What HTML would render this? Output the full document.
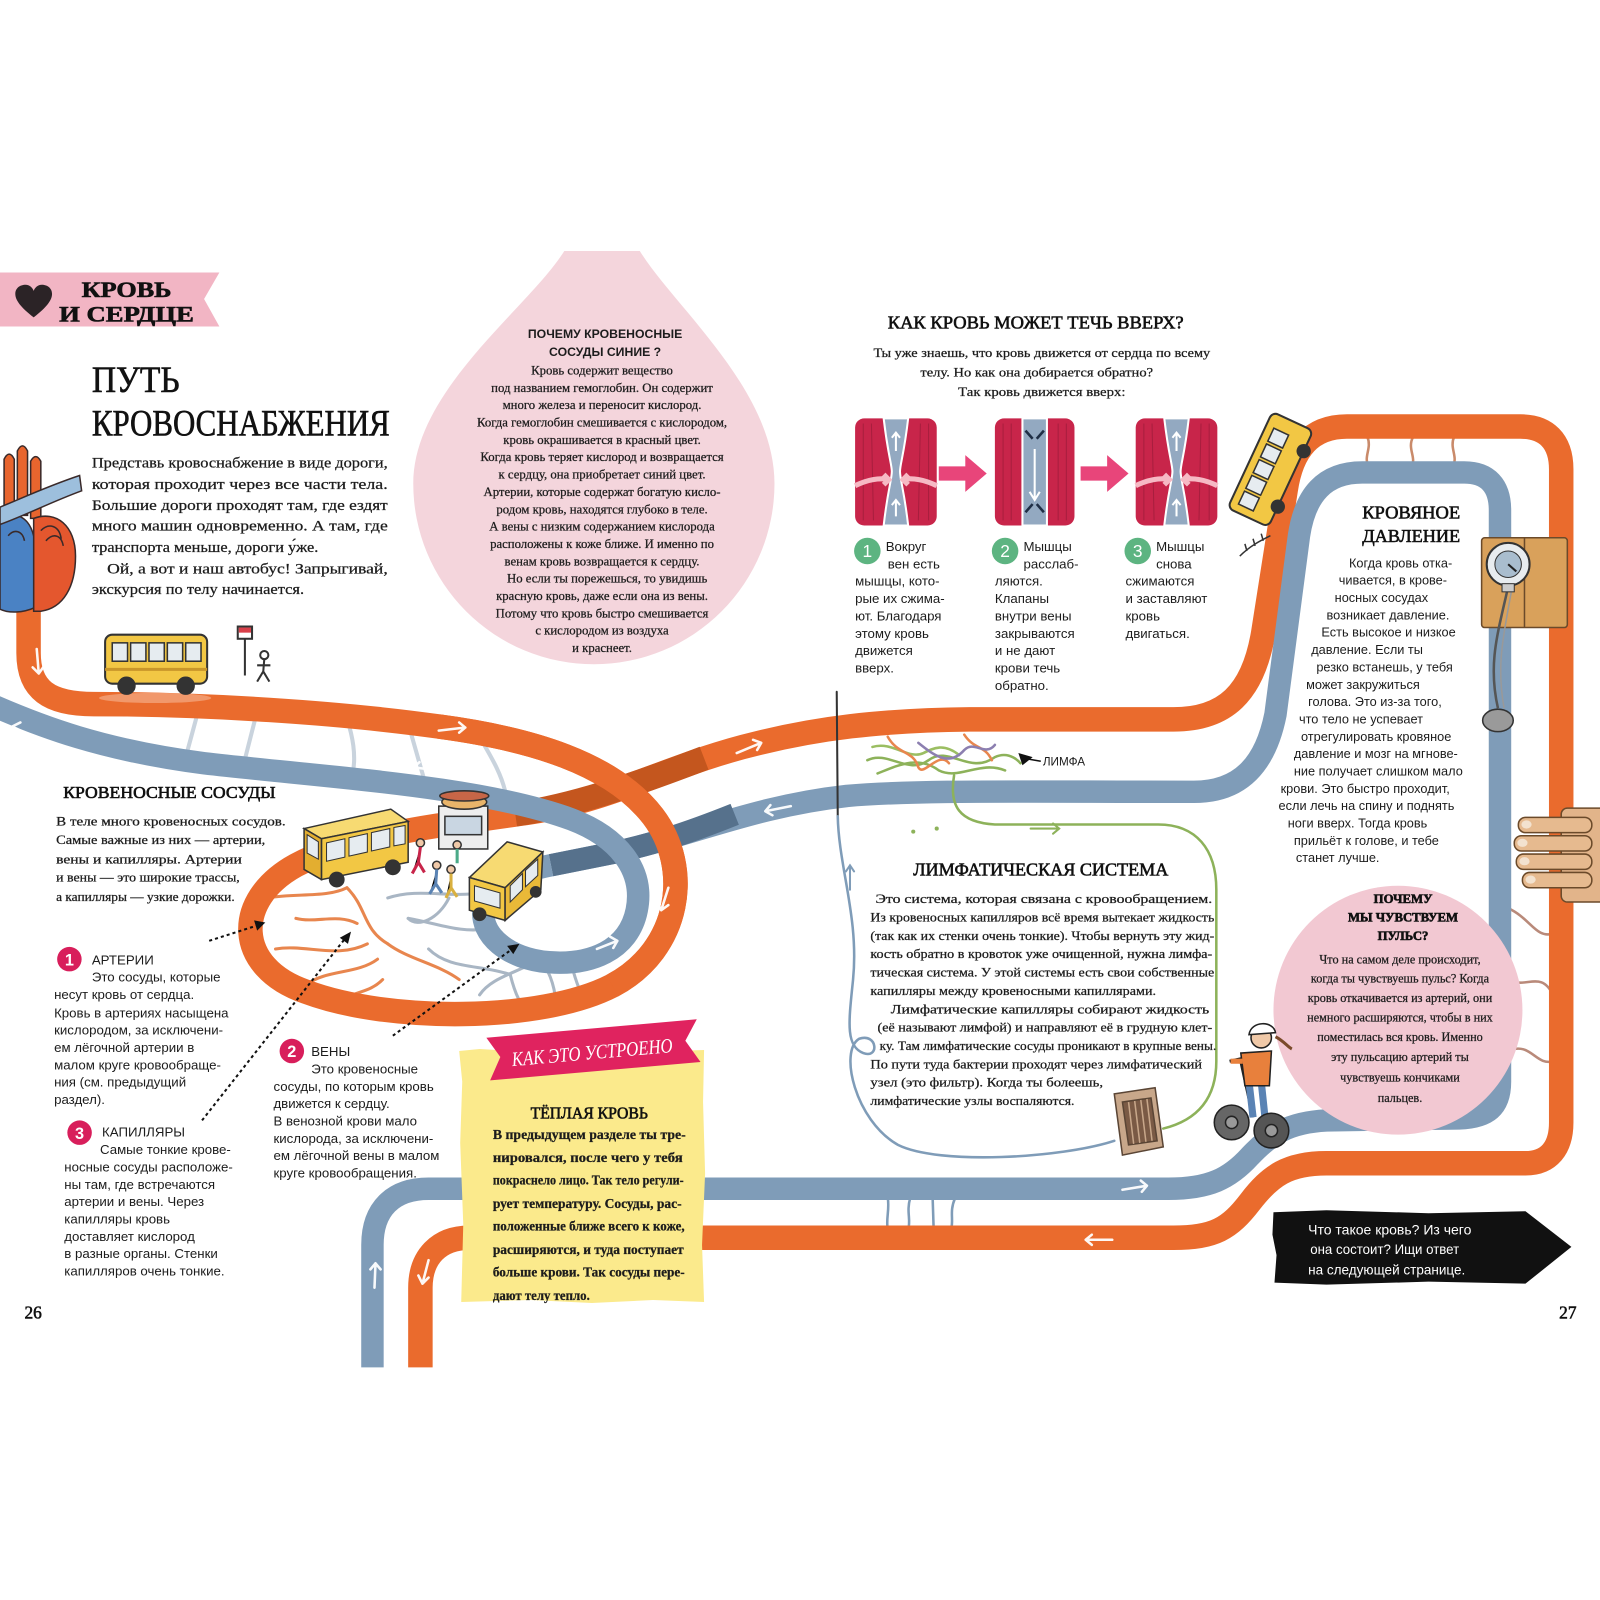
<!DOCTYPE html>
<html>
<head>
<meta charset="utf-8">
<style>
html,body{margin:0;padding:0;background:#fff;}
svg{display:block;}
.sr{font-family:"Liberation Serif","DejaVu Serif",serif;fill:#1c1c1c;stroke:#1c1c1c;stroke-width:0.25;}
.ss{font-family:"Liberation Sans","DejaVu Sans",sans-serif;fill:#1c1c1c;}
.tt{font-family:"Liberation Serif","DejaVu Serif",serif;fill:#111;stroke:#111;stroke-width:0.6;}
</style>
</head>
<body>
<svg width="1600" height="1600" viewBox="0 0 1600 1600" xmlns="http://www.w3.org/2000/svg">
<rect width="1600" height="1600" fill="#fff"/>
<g transform="scale(1.0204)">

<!-- ============ PINK DROP ============ -->
<path d="M553,246 L627,246 C662,302 759,382 759,474 A177,177 0 0 1 405,474 C405,382 518,302 553,246 Z" fill="#F4D5DC"/>

<!-- ============ CAPILLARIES (under roads) ============ -->
<g fill="none" stroke-linecap="round">
  <g stroke="#C9D3DD" stroke-width="4">
    <path d="M195,694 L182,742"/><path d="M252,697 L238,752"/>
    <path d="M340,704 C345,720 350,740 345,762"/><path d="M400,709 L418,772"/>
    <path d="M470,722 C480,740 490,755 495,775"/>
  </g>
  <g stroke="#E8864E" stroke-width="3">
    <path d="M262,880 C290,875 320,880 340,870"/>
    <path d="M270,930 C300,925 330,940 360,925"/>
    <path d="M300,965 C320,950 350,955 370,940"/>
    <path d="M340,870 C360,890 355,910 380,925"/>
    <path d="M380,925 C400,940 430,945 450,960"/>
    <path d="M330,985 C345,970 360,975 375,960"/>
    <path d="M290,900 C310,905 330,895 350,905"/>
  </g>
  <g stroke="#A9B6C4" stroke-width="3">
    <path d="M380,880 C410,870 440,880 470,875"/>
    <path d="M400,900 C430,905 450,915 480,910"/>
    <path d="M420,930 C440,950 470,945 500,955"/>
    <path d="M470,975 C480,960 500,955 520,945"/>
    <path d="M440,880 C430,900 410,910 400,900"/>
    <path d="M560,945 C565,965 570,975 575,985"/>
    <path d="M500,955 C505,975 510,985 520,995"/>
    <path d="M530,940 C540,955 545,970 545,990"/>
  </g>
  <g stroke="#C98A6A" stroke-width="2.5">
    <path d="M1385,428 C1378,440 1390,450 1382,458"/>
    <path d="M1425,428 C1420,440 1430,448 1423,458"/>
    <path d="M1340,428 C1345,440 1335,448 1342,458"/>
  </g>
  <g stroke="#B98A7A" stroke-width="2.5">
    <path d="M1478,890 C1500,900 1505,920 1522,915"/>
    <path d="M1478,960 C1495,970 1510,950 1522,975"/>
    <path d="M1478,1030 C1500,1020 1505,1045 1522,1040"/>
  </g>
  <g stroke="#7F9CB8" stroke-width="2.5">
    <path d="M870,1174 C872,1185 868,1195 870,1205"/>
    <path d="M892,1174 C888,1188 893,1195 890,1205"/>
    <path d="M914,1174 L915,1205"/>
    <path d="M936,1174 C930,1188 935,1195 932,1205"/>
  </g>
</g>

<!-- ============ ROADS ============ -->
<g fill="none" stroke-linecap="butt" stroke-linejoin="round">
  <path d="M28,585 L28,640 C28,676 48,690 92,690 C200,690 330,698 430,712 C520,724 600,748 640,800 C678,850 668,930 600,966 C530,1002 380,1002 300,972 C230,948 228,882 290,848 C350,816 440,808 520,796 C600,784 660,748 740,729 C800,714 860,706 950,705 L1150,705 C1200,705 1228,680 1238,620 L1260,480 C1266,440 1285,418 1320,418 L1490,418 C1515,418 1530,432 1530,460 L1530,1100 C1530,1125 1518,1140 1495,1140 L1300,1140 C1262,1140 1245,1152 1225,1178 C1205,1204 1190,1213 1150,1213 L460,1213 C430,1213 412,1232 412,1262 L412,1340" stroke="#EA6B2D" stroke-width="24"/>
  <path d="M505,798 C560,790 620,770 690,743" stroke="#C4561E" stroke-width="24"/>
  <path d="M540,848 C560,844 580,840 600,836 C680,818 740,790 830,780 C900,774 1000,776 1170,776 C1215,776 1240,750 1250,700 L1273,525 C1279,485 1298,463 1335,463 L1435,463 C1458,463 1470,476 1470,500 L1470,1060 C1470,1085 1458,1095 1430,1096 L1300,1098 C1262,1100 1245,1112 1225,1133 C1205,1155 1185,1165 1145,1165 L420,1165 C385,1165 365,1185 365,1220 L365,1340" stroke="#7F9CB8" stroke-width="22"/>
  <path d="M540,848 C560,844 580,840 600,836 C640,827 670,818 720,798" stroke="#56718C" stroke-width="22"/>
  <path d="M-10,690 C40,712 100,735 200,748 C320,762 470,770 560,803 C605,820 632,852 624,892 C616,932 578,946 538,943 C498,940 470,916 474,890 C478,866 505,855 540,848" stroke="#7F9CB8" stroke-width="22"/>
  <path d="M430,712 C520,724 600,748 640,800 C678,850 668,930 600,966" stroke="#EA6B2D" stroke-width="24"/>
</g>

<!-- road arrows -->
<g fill="none" stroke="#fff" stroke-width="2.5" stroke-linecap="round" stroke-linejoin="round" opacity="0.95">
  <path d="M36,636 L38,660 M32,654 L38,660 L43,653"/>
  <path d="M430,716 L456,713 M450,708 L456,713 L450,718"/>
  <path d="M722,738 L746,728 M738,725 L746,728 L742,735"/>
  <path d="M655,870 L648,892 M644,884 L648,892 L655,887"/>
  <path d="M1512,1094 L1500,1114 M1499,1105 L1500,1114 L1508,1112"/>
  <path d="M1090,1215 L1064,1215 M1070,1210 L1064,1215 L1070,1220"/>
  <path d="M420,1235 L414,1258 M410,1250 L414,1258 L420,1252"/>
  <path d="M32,722 L12,712 M14,720 L12,712 L20,708"/>
  <path d="M430,755 L405,752 M411,747 L405,752 L410,757"/>
  <path d="M585,930 L605,922 M598,918 L605,922 L601,929"/>
  <path d="M775,790 L750,795 M755,789 L750,795 L757,799"/>
  <path d="M1100,1166 L1124,1162 M1118,1157 L1124,1162 L1119,1168"/>
  <path d="M367,1262 L368,1238 M363,1244 L368,1238 L373,1244"/>
</g>

<!-- ============ LYMPH LINES ============ -->
<g fill="none" stroke-linecap="round">
  <path d="M820,678 L821,800" stroke="#333" stroke-width="2"/>
  <path d="M821,800 C822,850 842,900 836,960 C832,1000 828,1025 846,1032 C862,1038 860,1012 842,1018 C822,1030 838,1098 880,1122 C920,1142 1040,1135 1092,1118" stroke="#7F9CB8" stroke-width="2.5"/>
  <path d="M935,760 C930,790 940,806 975,808 L1135,808 C1172,808 1192,832 1192,872 L1192,1040 C1192,1078 1172,1098 1140,1106" stroke="#8DB25A" stroke-width="2.5"/>
  <path d="M1010,812 L1038,812 M1032,807 L1038,812 L1032,817" stroke="#8DB25A" stroke-width="2"/>
  <path d="M833,872 L833,848 M829,854 L833,848 L837,854" stroke="#7F9CB8" stroke-width="2"/>
  <path d="M850,745 C870,735 890,760 910,745 C930,730 950,760 975,742 C990,735 1000,748 1000,748" stroke="#8DB25A" stroke-width="2.5"/>
  <path d="M860,758 C880,750 900,740 920,755 C940,765 960,745 985,755" stroke="#8DB25A" stroke-width="2.5"/>
  <path d="M855,732 C875,726 890,745 905,738 C915,733 925,728 940,740" stroke="#9BBE62" stroke-width="2.5"/>
  <path d="M870,722 C880,740 895,735 900,752 C905,762 920,735 930,748" stroke="#E8864E" stroke-width="2.5"/>
  <path d="M945,720 C955,735 965,730 972,745" stroke="#E8864E" stroke-width="2.5"/>
  <path d="M900,728 C915,740 930,752 945,735 C955,725 965,742 975,730" stroke="#8C7FB0" stroke-width="2.5"/>
</g>
<polygon points="998,738 1012,742 1002,750" fill="#111"/>
<path d="M1008,744 L1020,746" stroke="#111" stroke-width="1.5"/>
<text x="1022" y="750" class="ss" font-size="11.5">ЛИМФА</text>
<g fill="#8DB25A"><circle cx="895" cy="815" r="2"/><circle cx="918" cy="812" r="2"/></g>

<!-- ============ BANNER ============ -->
<polygon points="0,267 215,267 200,293 215,320 0,320" fill="#F2B5C4"/>
<path d="M33,311 C20,301 15,294 15,288 C15,282 20,279 25,279 C29,279 32,282 33,285 C34,282 37,279 41,279 C46,279 51,282 51,288 C51,294 46,301 33,311 Z" fill="#2b2326"/>
<text x="80" y="291" class="tt" font-size="22" font-weight="bold" textLength="88" lengthAdjust="spacingAndGlyphs">КРОВЬ</text>
<text x="58" y="315" class="tt" font-size="22" font-weight="bold" textLength="132" lengthAdjust="spacingAndGlyphs">И СЕРДЦЕ</text>

<!-- ============ TITLE + INTRO ============ -->
<text x="90" y="384" class="tt" font-size="36" textLength="86" lengthAdjust="spacingAndGlyphs">ПУТЬ</text>
<text x="90" y="427" class="tt" font-size="36" textLength="292" lengthAdjust="spacingAndGlyphs">КРОВОСНАБЖЕНИЯ</text>
<g class="sr" font-size="14.5">
<text x="90" y="458" textLength="290" lengthAdjust="spacingAndGlyphs">Представь кровоснабжение в виде дороги,</text>
<text x="90" y="479" textLength="290" lengthAdjust="spacingAndGlyphs">которая проходит через все части тела.</text>
<text x="90" y="500" textLength="290" lengthAdjust="spacingAndGlyphs">Большие дороги проходят там, где ездят</text>
<text x="90" y="520" textLength="290" lengthAdjust="spacingAndGlyphs">много машин одновременно. А там, где</text>
<text x="90" y="541" textLength="222" lengthAdjust="spacingAndGlyphs">транспорта меньше, дороги у́же.</text>
<text x="105" y="562" textLength="275" lengthAdjust="spacingAndGlyphs">Ой, а вот и наш автобус! Запрыгивай,</text>
<text x="90" y="582" textLength="208" lengthAdjust="spacingAndGlyphs">экскурсия по телу начинается.</text>
</g>

<!-- ============ HEART ============ -->
<g stroke="#3a2a2a" stroke-width="1.5">
  <path d="M4,505 L4,450 Q9,440 14,450 L14,505 Z" fill="#E8652E"/>
  <path d="M17,505 L17,442 Q22,432 27,442 L27,505 Z" fill="#E8652E"/>
  <path d="M30,508 L30,452 Q35,443 40,452 L40,508 Z" fill="#E8652E"/>
  <path d="M0,505 C25,500 35,515 35,545 L35,595 C22,601 8,601 0,597 Z" fill="#4A82C4"/>
  <path d="M33,508 C55,500 74,515 74,545 C74,575 62,596 40,599 L33,599 Z" fill="#E4572E"/>
  <path d="M0,497 C20,489 45,477 78,466 L80,481 C50,492 25,505 0,514 Z" fill="#9DBFDD"/>
  <path d="M40,520 C48,512 58,515 60,528 M45,530 C52,522 60,524 62,535" fill="none"/>
  <path d="M8,525 C14,518 22,520 24,530" fill="none"/>
</g>

<!-- ============ BUS 1 + STOP ============ -->
<ellipse cx="152" cy="684" rx="55" ry="5" fill="#F3A47A" opacity="0.8"/>
<g stroke="#333" stroke-width="2">
  <rect x="103" y="622" width="100" height="48" rx="7" fill="#F2C744"/>
  <g fill="#E6ECF0" stroke-width="1.5">
    <rect x="110" y="630" width="15" height="18"/><rect x="128" y="630" width="15" height="18"/>
    <rect x="146" y="630" width="15" height="18"/><rect x="164" y="630" width="15" height="18"/>
    <rect x="182" y="630" width="15" height="18"/>
  </g>
  <line x1="103" y1="656" x2="203" y2="656" stroke="#C9962A" stroke-width="3"/>
  <circle cx="124" cy="672" r="8" fill="#333"/><circle cx="182" cy="672" r="8" fill="#333"/>
  <line x1="240" y1="620" x2="240" y2="662"/>
  <rect x="233" y="614" width="14" height="12" fill="#fff"/>
</g>
<rect x="234" y="615" width="12" height="5" fill="#D9404A"/>
<g stroke="#333" stroke-width="2" fill="none">
  <circle cx="259" cy="642" r="4" fill="#fff"/>
  <path d="M259,646 L258,658 L252,668 M258,658 L264,668 M252,652 L265,652"/>
</g>

<!-- ============ DROP TEXT ============ -->
<g class="ss" font-size="12" font-weight="bold" text-anchor="middle" fill="#1a1a1a">
<text x="593" y="331">ПОЧЕМУ КРОВЕНОСНЫЕ</text>
<text x="593" y="349">СОСУДЫ СИНИЕ ?</text>
</g>
<g class="sr" font-size="12.5" text-anchor="middle">
<text x="590" y="367">Кровь содержит вещество</text>
<text x="590" y="384">под названием гемоглобин. Он содержит</text>
<text x="590" y="401">много железа и переносит кислород.</text>
<text x="590" y="418">Когда гемоглобин смешивается с кислородом,</text>
<text x="590" y="435">кровь окрашивается в красный цвет.</text>
<text x="590" y="452">Когда кровь теряет кислород и возвращается</text>
<text x="590" y="469">к сердцу, она приобретает синий цвет.</text>
<text x="590" y="486">Артерии, которые содержат богатую кисло-</text>
<text x="590" y="503">родом кровь, находятся глубоко в теле.</text>
<text x="590" y="520">А вены с низким содержанием кислорода</text>
<text x="590" y="537">расположены к коже ближе. И именно по</text>
<text x="590" y="554">венам кровь возвращается к сердцу.</text>
<text x="595" y="571">Но если ты порежешься, то увидишь</text>
<text x="590" y="588">красную кровь, даже если она из вены.</text>
<text x="590" y="605">Потому что кровь быстро смешивается</text>
<text x="590" y="622">с кислородом из воздуха</text>
<text x="590" y="639">и краснеет.</text>
</g>

<!-- ============ HOW BLOOD FLOWS UP ============ -->
<text x="870" y="322" class="tt" font-size="18" textLength="290" lengthAdjust="spacingAndGlyphs">КАК КРОВЬ МОЖЕТ ТЕЧЬ ВВЕРХ?</text>
<g class="sr" font-size="12.5">
<text x="856" y="350" textLength="330" lengthAdjust="spacingAndGlyphs">Ты уже знаешь, что кровь движется от сердца по всему</text>
<text x="902" y="369" textLength="228" lengthAdjust="spacingAndGlyphs">телу. Но как она добирается обратно?</text>
<text x="939" y="388" textLength="164" lengthAdjust="spacingAndGlyphs">Так кровь движется вверх:</text>
</g>

<!-- muscle 1 -->
<g transform="translate(838,410)">
  <rect width="80" height="105" rx="9" fill="#C8254A"/>
  <path d="M28,0 L52,0 C48,35 44,45 44,52 C44,60 48,70 52,105 L28,105 C32,70 36,60 36,52 C36,45 32,35 28,0 Z" fill="#93A9C1" stroke="#fff" stroke-width="2"/>
  <g stroke="#A81E3E" stroke-width="1" fill="none"><path d="M8,5 L8,100 M16,5 L18,100 M64,5 L62,100 M72,5 L72,100"/></g>
  <path d="M40,32 L40,14 M36,19 L40,14 L44,19 M40,96 L40,80 M36,85 L40,80 L44,85" stroke="#fff" stroke-width="2" fill="none"/>
  <path d="M0,66 C12,60 24,58 33,60 M28,55 L33,60 L28,65" stroke="#F6B9C4" stroke-width="5" fill="none"/>
  <path d="M80,66 C68,60 56,58 47,60 M52,55 L47,60 L52,65" stroke="#F6B9C4" stroke-width="5" fill="none"/>
</g>
<!-- muscle 2 -->
<g transform="translate(975,410)">
  <rect width="78" height="105" rx="9" fill="#C8254A"/>
  <rect x="27" y="0" width="24" height="105" fill="#93A9C1" stroke="#fff" stroke-width="2"/>
  <g stroke="#A81E3E" stroke-width="1" fill="none"><path d="M8,5 L8,100 M16,5 L16,100 M62,5 L62,100 M70,5 L70,100"/></g>
  <path d="M39,30 L39,78 M34,72 L39,80 L44,72" stroke="#fff" stroke-width="2" fill="none"/>
  <path d="M30,12 L37,20 M48,12 L41,20 M30,92 L37,84 M48,92 L41,84" stroke="#1f2e45" stroke-width="2.5"/>
</g>
<!-- muscle 3 -->
<g transform="translate(1113,410)">
  <rect width="80" height="105" rx="9" fill="#C8254A"/>
  <path d="M28,0 L52,0 C48,35 44,45 44,52 C44,60 48,70 52,105 L28,105 C32,70 36,60 36,52 C36,45 32,35 28,0 Z" fill="#93A9C1" stroke="#fff" stroke-width="2"/>
  <g stroke="#A81E3E" stroke-width="1" fill="none"><path d="M8,5 L8,100 M16,5 L18,100 M64,5 L62,100 M72,5 L72,100"/></g>
  <path d="M40,32 L40,14 M36,19 L40,14 L44,19 M40,96 L40,80 M36,85 L40,80 L44,85" stroke="#fff" stroke-width="2" fill="none"/>
  <path d="M0,66 C12,60 24,58 33,60 M28,55 L33,60 L28,65" stroke="#F6B9C4" stroke-width="5" fill="none"/>
  <path d="M80,66 C68,60 56,58 47,60 M52,55 L47,60 L52,65" stroke="#F6B9C4" stroke-width="5" fill="none"/>
</g>
<polygon points="920,457 946,457 946,446 967,464 946,482 946,471 920,471" fill="#E8457A"/>
<polygon points="1059,457 1085,457 1085,446 1106,464 1085,482 1085,471 1059,471" fill="#E8457A"/>

<!-- step numbers -->
<g fill="#5DB481"><circle cx="850" cy="540" r="13"/><circle cx="985" cy="540" r="13"/><circle cx="1115" cy="540" r="13"/></g>
<g class="ss" font-size="17" text-anchor="middle"><text x="850" y="546" fill="#fff">1</text><text x="985" y="546" fill="#fff">2</text><text x="1115" y="546" fill="#fff">3</text></g>
<g class="ss" font-size="13">
<text x="868" y="540">Вокруг</text><text x="870" y="557">вен есть</text><text x="838" y="574">мышцы, кото-</text>
<text x="838" y="591">рые их сжима-</text><text x="838" y="608">ют. Благодаря</text><text x="838" y="625">этому кровь</text>
<text x="838" y="642">движется</text><text x="838" y="659">вверх.</text>
<text x="1003" y="540">Мышцы</text><text x="1003" y="557">расслаб-</text><text x="975" y="574">ляются.</text>
<text x="975" y="591">Клапаны</text><text x="975" y="608">внутри вены</text><text x="975" y="625">закрываются</text>
<text x="975" y="642">и не дают</text><text x="975" y="659">крови течь</text><text x="975" y="676">обратно.</text>
<text x="1133" y="540">Мышцы</text><text x="1133" y="557">снова</text><text x="1103" y="574">сжимаются</text>
<text x="1103" y="591">и заставляют</text><text x="1103" y="608">кровь</text><text x="1103" y="625">двигаться.</text>
</g>

<!-- tilted bus top right -->
<g transform="translate(1245,460) rotate(-65)">
  <rect x="-52" y="-22" width="104" height="44" rx="6" fill="#F2C744" stroke="#333" stroke-width="2"/>
  <g fill="#E6ECF0" stroke="#333" stroke-width="1.5">
    <rect x="-44" y="-14" width="14" height="16"/><rect x="-27" y="-14" width="14" height="16"/>
    <rect x="-10" y="-14" width="14" height="16"/><rect x="7" y="-14" width="14" height="16"/><rect x="24" y="-14" width="14" height="16"/>
  </g>
  <circle cx="-30" cy="22" r="7" fill="#333"/><circle cx="30" cy="22" r="7" fill="#333"/>
</g>
<path d="M1215,545 C1225,535 1235,530 1245,525 M1222,540 L1220,533 M1230,535 L1228,528 M1238,530 L1236,523" stroke="#333" stroke-width="1.5" fill="none"/>

<!-- ============ BLOOD PRESSURE ============ -->
<text x="1383" y="508" class="tt" font-size="18" text-anchor="middle" textLength="96" lengthAdjust="spacingAndGlyphs">КРОВЯНОЕ</text>
<text x="1383" y="531" class="tt" font-size="18" text-anchor="middle" textLength="96" lengthAdjust="spacingAndGlyphs">ДАВЛЕНИЕ</text>
<g class="ss" font-size="12.5">
<text x="1322" y="556">Когда кровь отка-</text>
<text x="1312" y="573">чивается, в крове-</text>
<text x="1308" y="590">носных сосудах</text>
<text x="1300" y="607">возникает давление.</text>
<text x="1295" y="624">Есть высокое и низкое</text>
<text x="1285" y="641">давление. Если ты</text>
<text x="1290" y="658">резко встанешь, у тебя</text>
<text x="1280" y="675">может закружиться</text>
<text x="1282" y="692">голова. Это из-за того,</text>
<text x="1273" y="709">что тело не успевает</text>
<text x="1275" y="726">отрегулировать кровяное</text>
<text x="1268" y="743">давление и мозг на мгнове-</text>
<text x="1268" y="760">ние получает слишком мало</text>
<text x="1255" y="777">крови. Это быстро проходит,</text>
<text x="1253" y="794">если лечь на спину и поднять</text>
<text x="1262" y="811">ноги вверх. Тогда кровь</text>
<text x="1268" y="828">прильёт к голове, и тебе</text>
<text x="1270" y="845">станет лучше.</text>
</g>
<!-- cuff -->
<g stroke="#6b4a2a" stroke-width="1.5">
  <rect x="1452" y="527" width="84" height="88" rx="3" fill="#D9A15B"/>
  <line x1="1494" y1="527" x2="1494" y2="615"/>
</g>
<path d="M1478,575 C1468,620 1458,650 1468,694" stroke="#555" stroke-width="2.5" fill="none"/>
<path d="M1482,575 C1474,620 1466,650 1474,694" stroke="#999" stroke-width="1.5" fill="none"/>
<ellipse cx="1468" cy="706" rx="15" ry="11" fill="#9A9A9A" stroke="#333" stroke-width="1.5"/>
<circle cx="1478" cy="553" r="21" fill="#E8ECEF" stroke="#333" stroke-width="2"/>
<circle cx="1478" cy="553" r="13" fill="#A9BDCE" stroke="#333" stroke-width="1"/>
<line x1="1478" y1="553" x2="1486" y2="560" stroke="#222" stroke-width="2"/>
<rect x="1472" y="572" width="12" height="8" fill="#ccc" stroke="#333"/>
<!-- hand -->
<g stroke="#6b4a2a" stroke-width="1.5">
  <rect x="1530" y="792" width="45" height="92" rx="6" fill="#E2B48A"/>
  <rect x="1488" y="801" width="72" height="15" rx="7" fill="#E6BA8F"/>
  <rect x="1484" y="819" width="76" height="15" rx="7" fill="#E6BA8F"/>
  <rect x="1486" y="837" width="74" height="15" rx="7" fill="#E6BA8F"/>
  <rect x="1492" y="855" width="68" height="15" rx="7" fill="#E6BA8F"/>
</g>
<g fill="#F3E2CF"><ellipse cx="1496" cy="808" rx="5" ry="4"/><ellipse cx="1492" cy="826" rx="5" ry="4"/><ellipse cx="1494" cy="844" rx="5" ry="4"/><ellipse cx="1500" cy="862" rx="5" ry="4"/></g>

<!-- ============ PULSE CIRCLE ============ -->
<circle cx="1370" cy="990" r="122" fill="#F2C8D2"/>
<g class="tt" font-size="12.5" font-weight="bold" text-anchor="middle">
<text x="1375" y="885">ПОЧЕМУ</text><text x="1375" y="903">МЫ ЧУВСТВУЕМ</text><text x="1375" y="921">ПУЛЬС?</text>
</g>
<g class="sr" font-size="12" text-anchor="middle">
<text x="1372" y="944">Что на самом деле происходит,</text>
<text x="1372" y="963">когда ты чувствуешь пульс? Когда</text>
<text x="1372" y="982">кровь откачивается из артерий, они</text>
<text x="1372" y="1001">немного расширяются, чтобы в них</text>
<text x="1372" y="1020">поместилась вся кровь. Именно</text>
<text x="1372" y="1040">эту пульсацию артерий ты</text>
<text x="1372" y="1060">чувствуешь кончиками</text>
<text x="1372" y="1080">пальцев.</text>
</g>

<!-- segway girl -->
<g stroke="#222" stroke-width="1.5">
  <path d="M1228,1095 L1216,1040" stroke-width="3"/>
  <path d="M1205,1040 L1228,1035" stroke-width="3"/>
  <path d="M1224,1060 L1228,1095 M1236,1060 L1240,1098" stroke="#5A83B4" stroke-width="7"/>
  <path d="M1216,1032 L1246,1030 L1244,1064 L1220,1064 Z" fill="#E8803C"/>
  <path d="M1218,1040 L1206,1040" stroke="#E8803C" stroke-width="5"/>
  <circle cx="1236" cy="1017" r="10" fill="#F0C9A8"/>
  <path d="M1224,1014 C1226,1000 1248,1000 1250,1012 Z" fill="#fff"/>
  <path d="M1250,1016 C1258,1020 1262,1026 1266,1028" stroke="#7a4a2a" stroke-width="3" fill="none"/>
  <circle cx="1207" cy="1100" r="17" fill="#666"/><circle cx="1207" cy="1100" r="6" fill="#999"/>
  <circle cx="1246" cy="1108" r="17" fill="#555"/><circle cx="1246" cy="1108" r="6" fill="#999"/>
</g>

<!-- radiator (lymph node) -->
<g stroke="#5a4535" stroke-width="1.5">
  <polygon points="1092,1072 1132,1066 1140,1124 1100,1132" fill="#C8A78A"/>
  <polygon points="1100,1080 1128,1076 1134,1118 1106,1122" fill="#7A5A45"/>
  <path d="M1106,1080 L1111,1121 M1112,1079 L1117,1120 M1118,1078 L1123,1119 M1124,1077 L1129,1118" stroke="#C8A78A"/>
</g>

<!-- ============ LYMPH TEXT ============ -->
<text x="895" y="858" class="tt" font-size="18" textLength="250" lengthAdjust="spacingAndGlyphs">ЛИМФАТИЧЕСКАЯ СИСТЕМА</text>
<g class="sr" font-size="12">
<text x="858" y="885" textLength="330" lengthAdjust="spacingAndGlyphs">Это система, которая связана с кровообращением.</text>
<text x="853" y="903" textLength="337" lengthAdjust="spacingAndGlyphs">Из кровеносных капилляров всё время вытекает жидкость</text>
<text x="853" y="921" textLength="337" lengthAdjust="spacingAndGlyphs">(так как их стенки очень тонкие). Чтобы вернуть эту жид-</text>
<text x="853" y="939" textLength="335" lengthAdjust="spacingAndGlyphs">кость обратно в кровоток уже очищенной, нужна лимфа-</text>
<text x="853" y="957" textLength="337" lengthAdjust="spacingAndGlyphs">тическая система. У этой системы есть свои собственные</text>
<text x="853" y="975" textLength="280" lengthAdjust="spacingAndGlyphs">капилляры между кровеносными капиллярами.</text>
<text x="873" y="993" textLength="312" lengthAdjust="spacingAndGlyphs">Лимфатические капилляры собирают жидкость</text>
<text x="860" y="1011" textLength="328" lengthAdjust="spacingAndGlyphs">(её называют лимфой) и направляют её в грудную клет-</text>
<text x="862" y="1029" textLength="330" lengthAdjust="spacingAndGlyphs">ку. Там лимфатические сосуды проникают в крупные вены.</text>
<text x="853" y="1047" textLength="325" lengthAdjust="spacingAndGlyphs">По пути туда бактерии проходят через лимфатический</text>
<text x="853" y="1065" textLength="228" lengthAdjust="spacingAndGlyphs">узел (это фильтр). Когда ты болеешь,</text>
<text x="853" y="1083" textLength="200" lengthAdjust="spacingAndGlyphs">лимфатические узлы воспаляются.</text>
</g>

<!-- ============ LOOP BUSES ============ -->
<g stroke="#333" stroke-width="1.5">
  <polygon points="298,812 383,793 400,805 315,822" fill="#F7DA72"/>
  <polygon points="315,822 400,805 400,845 315,862" fill="#F2C744"/>
  <polygon points="298,812 315,822 315,862 298,852" fill="#E3AE30"/>
  <g fill="#E6ECF0" stroke-width="1">
    <polygon points="320,826 338,822 338,840 320,844"/><polygon points="342,821 360,817 360,835 342,839"/>
    <polygon points="364,816 382,812 382,830 364,834"/><polygon points="386,811 397,809 397,827 386,829"/>
    <polygon points="301,818 312,825 312,842 301,836"/>
  </g>
  <circle cx="330" cy="862" r="7" fill="#333"/><circle cx="385" cy="850" r="7" fill="#333"/>
  <rect x="430" y="790" width="48" height="42" fill="#EDEDED"/>
  <rect x="436" y="800" width="36" height="18" fill="#C9D6E2"/>
  <ellipse cx="455" cy="786" rx="22" ry="7" fill="#E8B46A"/>
  <ellipse cx="455" cy="780" rx="24" ry="5" fill="#C76647"/>
  <polygon points="460,860 497,825 532,835 495,870" fill="#F7DA72"/>
  <polygon points="460,860 495,870 495,902 460,892" fill="#F2C744"/>
  <polygon points="495,870 532,835 530,872 495,902" fill="#E9B938"/>
  <g fill="#E6ECF0" stroke-width="1">
    <polygon points="465,868 490,875 490,890 465,883"/>
    <polygon points="500,868 512,856 512,872 500,884"/><polygon points="515,853 527,842 527,858 515,869"/>
  </g>
  <circle cx="470" cy="896" r="6" fill="#333"/><circle cx="525" cy="874" r="5" fill="#333"/>
</g>
<g stroke="#333" stroke-width="1.5">
  <circle cx="412" cy="826" r="4" fill="#F0C9A8"/><path d="M412,830 L410,845 L404,856 M410,845 L416,855" stroke="#C8254A" stroke-width="3"/>
  <circle cx="428" cy="848" r="4" fill="#F0C9A8"/><path d="M428,852 L427,866 L421,876 M427,866 L433,875" stroke="#5A83B4" stroke-width="3"/>
  <circle cx="442" cy="852" r="4" fill="#F0C9A8"/><path d="M442,856 L442,870 L437,880 M442,870 L448,879" stroke="#D9B040" stroke-width="3"/>
  <circle cx="448" cy="828" r="4" fill="#F0C9A8"/><path d="M448,832 L448,846" stroke="#4BAA88" stroke-width="3"/>
</g>

<!-- ============ LEFT COLUMN ============ -->
<text x="62" y="782" class="tt" font-size="17" textLength="208" lengthAdjust="spacingAndGlyphs">КРОВЕНОСНЫЕ СОСУДЫ</text>
<g class="sr" font-size="12">
<text x="55" y="809" textLength="225" lengthAdjust="spacingAndGlyphs">В теле много кровеносных сосудов.</text>
<text x="55" y="827" textLength="205" lengthAdjust="spacingAndGlyphs">Самые важные из них — артерии,</text>
<text x="55" y="846" textLength="182" lengthAdjust="spacingAndGlyphs">вены и капилляры. Артерии</text>
<text x="55" y="864" textLength="180" lengthAdjust="spacingAndGlyphs">и вены — это широкие трассы,</text>
<text x="55" y="883" textLength="175" lengthAdjust="spacingAndGlyphs">а капилляры — узкие дорожки.</text>
</g>
<g fill="#D81E5B"><circle cx="68" cy="940" r="12"/><circle cx="78" cy="1110" r="12"/><circle cx="286" cy="1030" r="12"/></g>
<g class="ss" font-size="16" font-weight="bold" text-anchor="middle"><text x="68" y="946" fill="#fff">1</text><text x="78" y="1116" fill="#fff">3</text><text x="286" y="1036" fill="#fff">2</text></g>
<g class="ss" font-size="13">
<text x="90" y="945">АРТЕРИИ</text>
<text x="90" y="962">Это сосуды, которые</text>
<text x="53" y="979">несут кровь от сердца.</text>
<text x="53" y="997">Кровь в артериях насыщена</text>
<text x="53" y="1014">кислородом, за исключени-</text>
<text x="53" y="1031">ем лёгочной артерии в</text>
<text x="53" y="1048">малом круге кровообраще-</text>
<text x="53" y="1065">ния (см. предыдущий</text>
<text x="53" y="1082">раздел).</text>
<text x="100" y="1114">КАПИЛЛЯРЫ</text>
<text x="98" y="1131">Самые тонкие крове-</text>
<text x="63" y="1148">носные сосуды расположе-</text>
<text x="63" y="1165">ны там, где встречаются</text>
<text x="63" y="1182">артерии и вены. Через</text>
<text x="63" y="1199">капилляры кровь</text>
<text x="63" y="1216">доставляет кислород</text>
<text x="63" y="1233">в разные органы. Стенки</text>
<text x="63" y="1250">капилляров очень тонкие.</text>
<text x="305" y="1035">ВЕНЫ</text>
<text x="305" y="1052">Это кровеносные</text>
<text x="268" y="1069">сосуды, по которым кровь</text>
<text x="268" y="1086">движется к сердцу.</text>
<text x="268" y="1103">В венозной крови мало</text>
<text x="268" y="1120">кислорода, за исключени-</text>
<text x="268" y="1137">ем лёгочной вены в малом</text>
<text x="268" y="1154">круге кровообращения.</text>
</g>
<g stroke="#111" stroke-width="2" stroke-dasharray="3 3" fill="none">
  <path d="M205,922 L252,907"/><path d="M198,1098 L338,920"/><path d="M385,1015 L502,930"/>
</g>
<g fill="#111">
  <polygon points="260,904 249,902 252,912"/>
  <polygon points="344,913 333,919 341,925"/>
  <polygon points="509,925 497,927 503,935"/>
</g>

<!-- ============ YELLOW BOX ============ -->
<polygon points="450,1030 470,1028 520,1031 600,1027 660,1030 690,1029 689,1080 691,1150 688,1220 690,1276 640,1274 580,1277 520,1274 452,1276 454,1200 451,1120 453,1060" fill="#FBEA8C"/>
<g transform="rotate(-5 580 1028)">
  <polygon points="478,1008 685,1008 672,1028 685,1050 478,1050 490,1028" fill="#E0235F"/>
  <text x="580" y="1038" font-family="Liberation Serif, serif" font-size="20" font-style="italic" text-anchor="middle" textLength="158" lengthAdjust="spacingAndGlyphs" fill="#fff">КАК ЭТО УСТРОЕНО</text>
</g>
<text x="520" y="1096" class="tt" font-size="16" textLength="115" lengthAdjust="spacingAndGlyphs">ТЁПЛАЯ КРОВЬ</text>
<g class="sr" font-size="13" font-weight="bold">
<text x="483" y="1116" textLength="189" lengthAdjust="spacingAndGlyphs">В предыдущем разделе ты тре-</text>
<text x="483" y="1139" textLength="186" lengthAdjust="spacingAndGlyphs">нировался, после чего у тебя</text>
<text x="483" y="1161" textLength="187" lengthAdjust="spacingAndGlyphs">покраснело лицо. Так тело регули-</text>
<text x="483" y="1184" textLength="185" lengthAdjust="spacingAndGlyphs">рует температуру. Сосуды, рас-</text>
<text x="483" y="1206" textLength="188" lengthAdjust="spacingAndGlyphs">положенные ближе всего к коже,</text>
<text x="483" y="1229" textLength="187" lengthAdjust="spacingAndGlyphs">расширяются, и туда поступает</text>
<text x="483" y="1251" textLength="188" lengthAdjust="spacingAndGlyphs">больше крови. Так сосуды пере-</text>
<text x="483" y="1274" textLength="95" lengthAdjust="spacingAndGlyphs">дают телу тепло.</text>
</g>

<!-- ============ BLACK ARROW ============ -->
<polygon points="1248,1188 1300,1186 1400,1189 1495,1187 1540,1222 1495,1258 1400,1256 1300,1259 1249,1257 1251,1230 1247,1210" fill="#111"/>
<g font-family="Liberation Sans, sans-serif" font-size="14" fill="#fff">
<text x="1282" y="1210" textLength="160" lengthAdjust="spacingAndGlyphs">Что такое кровь? Из чего</text>
<text x="1284" y="1229" textLength="146" lengthAdjust="spacingAndGlyphs">она состоит? Ищи ответ</text>
<text x="1282" y="1249" textLength="154" lengthAdjust="spacingAndGlyphs">на следующей странице.</text>
</g>

<text x="24" y="1292" class="tt" font-size="18" textLength="17" lengthAdjust="spacingAndGlyphs">26</text>
<text x="1528" y="1292" class="tt" font-size="18" textLength="17" lengthAdjust="spacingAndGlyphs">27</text>

</g>
</svg>
</body>
</html>
